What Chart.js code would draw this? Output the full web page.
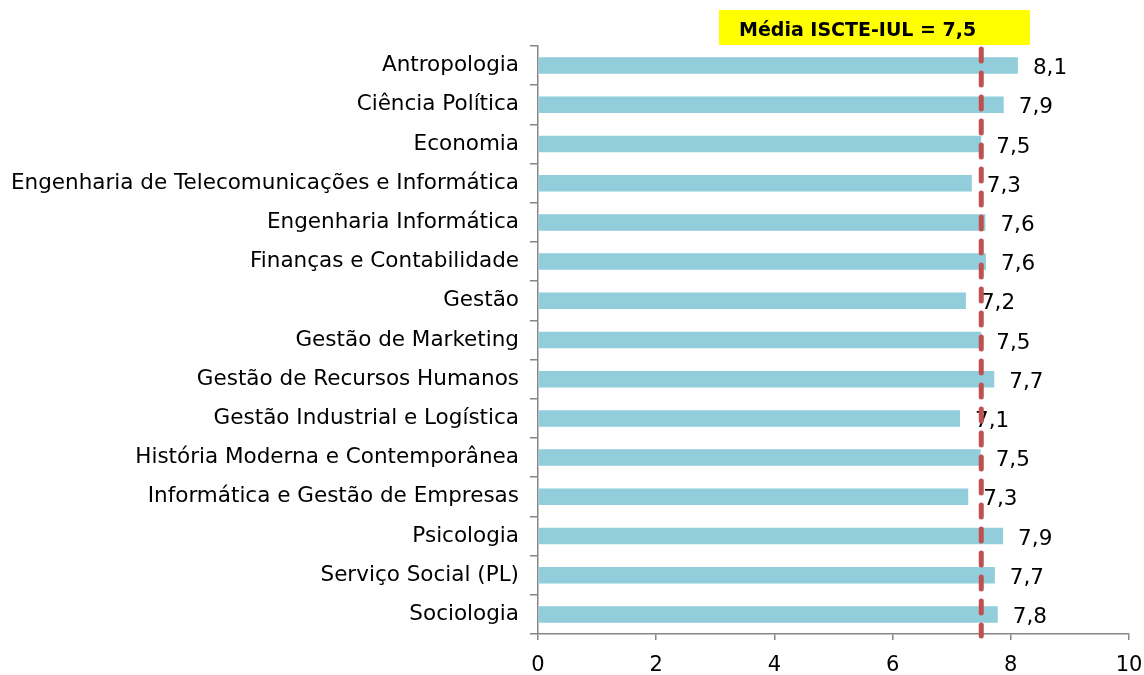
<!DOCTYPE html>
<html>
<head>
<meta charset="utf-8">
<script src="https://cdn.jsdelivr.net/npm/chart.js@4.4.0/dist/chart.umd.min.js"></script>
<style>
  html, body { margin: 0; padding: 0; background: #fff; }
  #wrap { width: 1144px; height: 675px; }
</style>
</head>
<body>
<div id="wrap"><canvas id="chart" width="1144" height="675"></canvas></div>
<script>
const categories = [
  "Antropologia",
  "Ciência Política",
  "Economia",
  "Engenharia de Telecomunicações e Informática",
  "Engenharia Informática",
  "Finanças e Contabilidade",
  "Gestão",
  "Gestão de Marketing",
  "Gestão de Recursos Humanos",
  "Gestão Industrial e Logística",
  "História Moderna e Contemporânea",
  "Informática e Gestão de Empresas",
  "Psicologia",
  "Serviço Social (PL)",
  "Sociologia"
];
const values = [8.12, 7.88, 7.50, 7.34, 7.57, 7.58, 7.24, 7.50, 7.72, 7.14, 7.49, 7.28, 7.87, 7.73, 7.78];
const labels = ["8,1", "7,9", "7,5", "7,3", "7,6", "7,6", "7,2", "7,5", "7,7", "7,1", "7,5", "7,3", "7,9", "7,7", "7,8"];
const mean = 7.5;
const meanLabel = "Média ISCTE-IUL = 7,5";
const xTicks = [0, 2, 4, 6, 8, 10];

const font = "'DejaVu Sans', Verdana, sans-serif";

// valores à direita das barras
const valueLabels = {
  id: "valueLabels",
  afterDatasetsDraw(chart) {
    const ctx = chart.ctx;
    const meta = chart.getDatasetMeta(0);
    ctx.save();
    ctx.font = "21.5px " + font;
    ctx.fillStyle = "#000";
    ctx.textAlign = "left";
    ctx.textBaseline = "middle";
    meta.data.forEach((bar, i) => {
      ctx.fillText(labels[i], bar.x + 15, bar.y + 3);
    });
    ctx.restore();
  }
};

// linha da média + caixa amarela
const meanLine = {
  id: "meanLine",
  afterDraw(chart) {
    const ctx = chart.ctx;
    const x = chart.scales.x.getPixelForValue(mean);
    const area = chart.chartArea;
    ctx.save();
    ctx.strokeStyle = "#C0504D";
    ctx.lineWidth = 5;
    ctx.lineCap = "round";
    ctx.setLineDash([12, 12]);
    ctx.beginPath();
    ctx.moveTo(x, area.top + 3);
    ctx.lineTo(x, area.bottom + 2);
    ctx.stroke();
    ctx.setLineDash([]);
    ctx.fillStyle = "#FFFF00";
    ctx.fillRect(719, 10, 311, 35);
    ctx.fillStyle = "#000";
    ctx.font = "bold 19px " + font;
    ctx.textBaseline = "middle";
    ctx.fillText(meanLabel, 739, 31);
    ctx.restore();
  }
};

new Chart(document.getElementById("chart"), {
  type: "bar",
  data: {
    labels: categories,
    datasets: [{
      data: values,
      backgroundColor: "#92CDDC",
      borderWidth: 0,
      barPercentage: 0.42,
      categoryPercentage: 1
    }]
  },
  options: {
    indexAxis: "y",
    responsive: false,
    animation: false,
    layout: { padding: { top: 46, right: 15, left: 0, bottom: 0 } },
    plugins: {
      legend: { display: false },
      tooltip: { enabled: false }
    },
    scales: {
      x: {
        min: 0,
        max: 10,
        afterBuildTicks(scale) { scale.ticks = xTicks.map(v => ({ value: v })); },
        afterFit(scale) {
          scale.height = 41;
          scale.paddingLeft = 0;
          scale.paddingRight = 0;
        },
        grid: { drawOnChartArea: false, tickLength: 6, color: "#868686", lineWidth: 1.5 },
        border: { color: "#868686", width: 1.5 },
        ticks: { color: "#000", font: { family: font, size: 21 }, padding: 13 }
      },
      y: {
        afterFit(scale) { scale.width = 538; },
        grid: { drawOnChartArea: false, tickLength: 8, color: "#868686", lineWidth: 1.5, offset: true },
        border: { color: "#868686", width: 1.5 },
        ticks: { color: "#000", font: { family: font, size: 21.5 }, padding: 11 }
      }
    }
  },
  plugins: [valueLabels, meanLine]
});
</script>
</body>
</html>
